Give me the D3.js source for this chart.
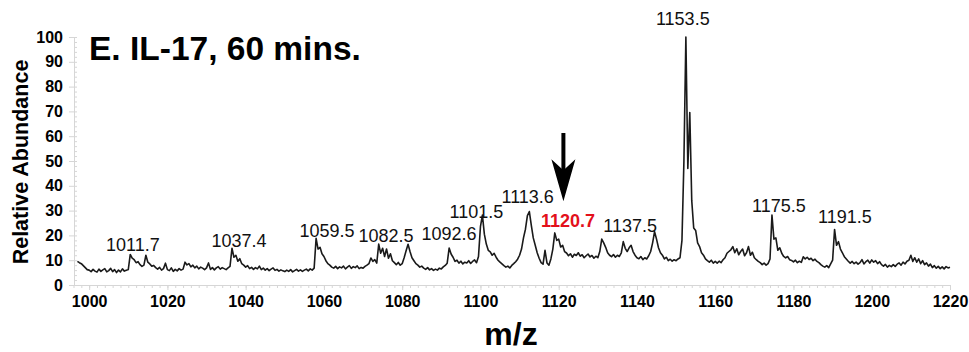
<!DOCTYPE html>
<html>
<head>
<meta charset="utf-8">
<script src="https://cdn.jsdelivr.net/npm/d3@7"></script>
<style>
  body { margin: 0; background: #fff; }
  svg { display: block; font-family: "Liberation Sans", Arial, Helvetica, sans-serif; }
</style>
</head>
<body>
<div id="chart"></div>
<script>
// Spectrum sampled every 0.5 m/z starting at 997.0
const mzStart = 997;
const mzStep = 0.5;
const abundance = [
  9.5, 9.0, 8.6, 7.8, 7.0, 6.2,
  // 1000
  6.0, 5.4, 6.3, 5.6, 5.2, 6.4, 5.5, 6.1, 6.6, 5.3, 5.8, 6.7, 5.4, 6.2, 5.0, 6.0, 5.3, 6.5, 5.6, 5.9,
  // 1010
  6.2, 12.3, 10.8, 10.2, 9.0, 9.4, 8.2, 7.5, 8.0, 12.0, 9.2, 8.5, 7.6, 7.9, 7.0, 6.4, 7.1, 6.0, 6.6, 8.8,
  // 1020
  6.2, 5.8, 6.9, 5.5, 6.3, 5.7, 6.6, 6.0, 6.4, 9.2, 8.1, 8.6, 7.3, 8.0, 6.9, 7.6, 6.5, 7.2, 6.8, 6.2,
  // 1030
  6.9, 8.9, 6.3, 7.0, 6.1, 6.9, 7.4, 6.4, 7.0, 6.6, 6.2, 6.9, 7.5, 14.8, 11.2, 12.0, 9.6, 10.6, 8.6, 8.0,
  // 1040
  7.2, 7.8, 6.6, 7.1, 6.3, 7.0, 6.5, 7.6, 6.2, 6.8, 6.0, 6.6, 5.8, 6.4, 6.9, 5.9, 6.3, 5.6, 6.1, 5.7,
  // 1050
  5.4, 6.0, 5.5, 6.2, 5.3, 5.8, 6.3, 5.6, 6.1, 5.5, 6.0, 6.4, 5.7, 6.5, 6.0, 6.8, 18.8, 14.5, 15.2, 12.6,
  // 1060
  11.5, 9.8, 8.6, 8.0, 7.2, 6.8, 7.5, 6.6, 7.3, 6.9, 7.6, 6.5, 7.2, 7.8, 6.7, 7.4, 7.0, 7.7, 6.6, 7.1,
  // 1070
  6.8, 7.5, 8.0, 8.6, 10.9, 9.5, 10.2, 8.8, 16.5, 12.8, 14.8, 11.5, 14.5, 10.8, 12.6, 9.8, 9.0, 8.2, 9.1, 8.0,
  // 1080
  8.6, 11.0, 13.8, 16.4, 13.5, 11.0, 9.8, 8.6, 8.0, 7.2, 7.6, 6.8, 6.3, 7.0, 6.1, 6.6, 5.9, 6.4, 6.0, 6.8,
  // 1090
  6.5, 7.3, 7.9, 8.8, 14.9, 12.5, 11.2, 9.5, 10.0, 8.8, 9.6, 8.5, 9.2, 8.9, 9.8, 8.7, 9.5, 10.1, 9.0, 11.5,
  // 1100
  23.5, 28.2, 20.5, 16.5, 14.0, 13.4, 12.0, 12.8, 11.2, 10.0, 9.2, 8.5, 7.8, 7.2, 7.6, 6.9, 7.9, 8.6, 9.4, 10.4,
  // 1110
  12.0, 14.5, 19.0, 22.5, 28.0, 29.6, 24.0, 19.0, 16.0, 13.0, 10.8, 9.0, 8.4, 14.0, 8.9, 8.0, 10.5, 14.5, 21.0, 18.0,
  // 1120
  18.5, 15.3, 16.0, 13.5, 12.9, 11.8, 12.6, 11.2, 12.4, 11.9, 13.0, 11.6, 12.2, 11.0, 11.8, 12.5, 11.3, 11.9, 10.8, 11.6,
  // 1130
  11.0, 13.5, 18.5, 17.0, 15.2, 13.0, 12.0, 11.4, 12.3, 11.2, 12.0, 11.5, 13.0, 17.5, 14.8, 13.5, 15.0, 16.0, 13.5, 12.0,
  // 1140
  11.0, 10.6, 11.5, 10.2, 11.0, 10.5, 11.8, 13.5, 17.0, 21.5, 18.5, 15.0, 13.0, 12.0, 10.5, 11.2, 9.8, 10.4, 9.6, 10.2,
  // 1150
  9.8, 10.5, 11.0, 18.0, 50.0, 100.0, 47.0, 69.5, 34.0, 23.0, 22.0, 17.0, 15.5, 13.0, 12.0, 10.5, 9.8, 9.2, 10.0, 8.8,
  // 1160
  9.5, 8.8, 9.6, 9.0, 10.2, 11.0, 12.8, 13.5, 14.2, 15.5, 13.0, 14.6, 12.2, 13.5, 14.5, 11.8, 13.0, 15.5, 12.0, 13.2,
  // 1170
  11.0, 10.2, 9.5, 9.0, 8.2, 8.8, 8.0, 8.6, 10.5, 28.2, 18.5, 19.0, 14.0, 15.0, 12.8, 11.5, 10.9, 11.5, 10.2, 9.9,
  // 1180
  9.3, 10.0, 9.0, 9.6, 9.1, 11.4, 10.5, 11.2, 10.3, 10.8, 9.8, 10.4, 9.5, 9.0, 8.2, 7.6, 7.2, 7.8, 7.0, 8.5,
  // 1190
  10.0, 22.4, 16.0, 17.5, 14.5, 13.0, 11.4, 10.5, 9.6, 8.8, 9.5, 8.6, 9.2, 8.4, 9.0, 10.2, 8.5, 9.4, 10.0, 8.8,
  // 1200
  10.1, 9.2, 9.8, 8.6, 9.4, 8.2, 7.6, 8.3, 7.2, 7.9, 7.4, 8.2, 7.5, 8.4, 8.9, 8.0, 9.2, 8.5, 9.6, 10.0,
  // 1210
  12.0, 9.5, 11.0, 9.2, 10.5, 8.6, 9.8, 8.2, 8.9, 7.6, 8.4, 7.0, 7.8, 6.8, 7.5, 6.6, 7.3, 6.5, 7.4, 6.9,
  // 1220
  7.2
];

// Annotated peaks
const peakLabels = ["1011.7", "1037.4", "1059.5", "1082.5", "1092.6", "1101.5",
                    "1113.6", "1120.7", "1137.5", "1153.5", "1175.5", "1191.5"];
const highlightPeak = "1120.7";

// Label placement (pixel nudge, baseline in abundance units)
const labelDx = [-2, 3.5, 5, -26, -2.5, -10, -6, 6.5, 3, -7, 3, 6.5];
const labelLevel = [13.7, 15.3, 19.4, 17.3, 18.1, 27.0, 33.1, 23.4, 21.4, 104.8, 29.4, 25.0];

// Axis ticks
const xTicks = [1000, 1020, 1040, 1060, 1080, 1100, 1120, 1140, 1160, 1180, 1200, 1220];
const yTicks = [0, 10, 20, 30, 40, 50, 60, 70, 80, 90, 100];

const title = "E. IL-17, 60 mins.";
const width = 969, height = 352;

const svg = d3.select("#chart").append("svg")
    .attr("width", width)
    .attr("height", height);

svg.append("rect").attr("width", width).attr("height", height).attr("fill", "#fff");

const x = d3.scaleLinear().domain([996, 1220]).range([73.5, 950]);
const y = d3.scaleLinear().domain([0, 100]).range([285, 37]);

const axisColor = "#d6d6d6";

// minor ticks
svg.append("g")
    .attr("transform", "translate(0,285)")
    .call(d3.axisBottom(x).tickValues(d3.range(996, 1221, 2)).tickSize(3).tickFormat(""))
    .call(g => g.select(".domain").remove())
    .call(g => g.selectAll("line").attr("stroke", axisColor));

svg.append("g")
    .attr("transform", "translate(74,0)")
    .call(d3.axisLeft(y).tickValues(d3.range(0, 101, 2)).tickSize(-3).tickFormat(""))
    .call(g => g.select(".domain").remove())
    .call(g => g.selectAll("line").attr("stroke", axisColor));

// x axis
svg.append("g")
    .attr("transform", "translate(0,285)")
    .call(d3.axisBottom(x).tickValues(xTicks).tickFormat(d3.format("d"))
        .tickSize(5).tickPadding(6).tickSizeOuter(0))
    .call(g => g.select(".domain").attr("stroke", axisColor))
    .call(g => g.selectAll("line").attr("stroke", axisColor))
    .call(g => g.selectAll("text")
        .attr("fill", "#000")
        .attr("font-size", 16)
        .attr("font-weight", "bold")
        .attr("font-family", "'Liberation Sans', Arial, sans-serif"));

// y axis
svg.append("g")
    .attr("transform", "translate(74,0)")
    .call(d3.axisLeft(y).tickValues(yTicks).tickSize(5).tickPadding(6).tickSizeOuter(0))
    .call(g => g.select(".domain").attr("stroke", axisColor))
    .call(g => g.selectAll("line").attr("stroke", axisColor))
    .call(g => g.selectAll("text")
        .attr("fill", "#000")
        .attr("font-size", 16)
        .attr("font-weight", "bold")
        .attr("font-family", "'Liberation Sans', Arial, sans-serif"));

// spectrum trace
const line = d3.line()
    .x((d, i) => x(mzStart + i * mzStep))
    .y(d => y(d));

svg.append("path")
    .datum(abundance)
    .attr("d", line)
    .attr("fill", "none")
    .attr("stroke", "#1a1a1a")
    .attr("stroke-width", 1.6)
    .attr("stroke-linejoin", "round");

// peak labels
svg.append("g")
    .selectAll("text")
    .data(peakLabels)
    .enter()
    .append("text")
    .attr("x", (d, i) => x(+d) + labelDx[i])
    .attr("y", (d, i) => y(labelLevel[i]))
    .attr("text-anchor", "middle")
    .attr("font-size", 18)
    .attr("font-weight", d => d === highlightPeak ? "bold" : "normal")
    .attr("fill", d => d === highlightPeak ? "#e3101b" : "#111")
    .text(d => d);

// arrow pointing at the highlighted peak
const arrowMz = 1121.2, arrowTop = 61.3, arrowTip = 33.8;
const ax = x(arrowMz), yTop = y(arrowTop), yTip = y(arrowTip);
svg.append("line")
    .attr("x1", ax).attr("x2", ax)
    .attr("y1", yTop).attr("y2", yTip - 30)
    .attr("stroke", "#000")
    .attr("stroke-width", 4);
svg.append("path")
    .attr("d", `M${ax},${yTip} L${ax - 12},${yTip - 42} L${ax},${yTip - 31} L${ax + 12},${yTip - 42} Z`)
    .attr("fill", "#000");

// title
svg.append("text")
    .attr("x", 89)
    .attr("y", 60)
    .attr("font-size", 33.5)
    .attr("font-weight", "bold")
    .attr("fill", "#000")
    .text(title);

// axis titles
svg.append("text")
    .attr("transform", "translate(28,162) rotate(-90)")
    .attr("text-anchor", "middle")
    .attr("font-size", 21.5)
    .attr("font-weight", "bold")
    .attr("fill", "#000")
    .text("Relative Abundance");

svg.append("text")
    .attr("x", 511)
    .attr("y", 345)
    .attr("text-anchor", "middle")
    .attr("font-size", 32)
    .attr("font-weight", "bold")
    .attr("fill", "#000")
    .text("m/z");
</script>
</body>
</html>
